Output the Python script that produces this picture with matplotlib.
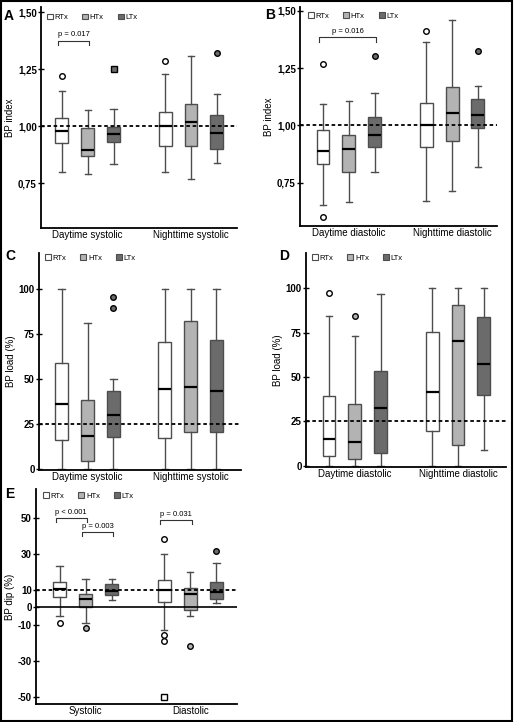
import numpy as np
import matplotlib.pyplot as plt
from matplotlib.patches import Patch, Rectangle

plt.rcParams['font.family'] = ['Liberation Sans', 'DejaVu Sans']

W, H = 514, 722

groups = ['RTx', 'HTx', 'LTx']
group_colors = ['white', '#b3b3b3', '#6b6b6b']
positions = [1, 2, 3, 5, 6, 7]

# order in every series: RTx, HTx, LTx (day / systolic), RTx, HTx, LTx (night / diastolic)

# A - BP index, systolic
a_cats = ['Daytime systolic', 'Nighttime systolic']
a_whislo = [0.800, 0.790, 0.834, 0.798, 0.769, 0.839]
a_q1 = [0.926, 0.869, 0.933, 0.915, 0.914, 0.900]
a_med = [0.981, 0.894, 0.965, 1.000, 1.019, 0.969]
a_q3 = [1.035, 0.991, 0.998, 1.061, 1.097, 1.049]
a_whishi = [1.153, 1.071, 1.077, 1.231, 1.306, 1.141]
a_fliers = [(0, 1.220, 'o'), (2, 1.253, 's'), (3, 1.285, 'o'), (5, 1.323, 'o')]
a_brackets = [(0, 1, 1.376, 'p = 0.017')]

# B - BP index, diastolic
b_cats = ['Daytime diastolic', 'Nighttime diastolic']
b_whislo = [0.653, 0.664, 0.794, 0.670, 0.715, 0.818]
b_q1 = [0.830, 0.795, 0.904, 0.907, 0.933, 0.988]
b_med = [0.887, 0.898, 0.959, 1.003, 1.054, 1.044]
b_q3 = [0.980, 0.958, 1.038, 1.099, 1.169, 1.113]
b_whishi = [1.094, 1.108, 1.141, 1.363, 1.459, 1.173]
b_fliers = [(0, 1.266, 'o'), (0, 0.599, 'o'), (2, 1.304, 'o'), (3, 1.413, 'o'), (5, 1.326, 'o')]
b_brackets = [(0, 2, 1.384, 'p = 0.016')]

# C - BP load, systolic
c_cats = ['Daytime systolic', 'Nighttime systolic']
c_whislo = [0, 0, 0, 0, 0, 0]
c_q1 = [15.7, 4.1, 17.6, 16.9, 20.2, 20.2]
c_med = [35.9, 18.1, 29.6, 44.4, 45.6, 43.0]
c_q3 = [58.9, 38.0, 43.0, 70.6, 81.9, 71.5]
c_whishi = [100, 80.9, 50, 100, 100, 100]
c_fliers = [(2, 95.6, 'o'), (2, 89.0, 'o')]

# D - BP load, diastolic
d_cats = ['Daytime diastolic', 'Nighttime diastolic']
d_whislo = [0, 0, 0, 0, 0, 9.0]
d_q1 = [5.5, 3.9, 7.1, 19.4, 11.5, 40.0]
d_med = [15.0, 13.7, 32.3, 41.7, 70.5, 57.3]
d_q3 = [39.5, 34.6, 53.2, 75.4, 90.4, 83.5]
d_whishi = [84.2, 73.3, 96.8, 100, 100, 100]
d_fliers = [(0, 97.4, 'o'), (1, 84.2, 'o')]

# E - BP dip
e_cats = ['Systolic', 'Diastolic']
e_whislo = [-4.9, -8.8, 3.9, -12.7, -4.9, 2.6]
e_q1 = [5.6, 0.4, 6.9, 3.2, -1.5, 4.5]
e_med = [10.3, 4.9, 9.3, 9.7, 7.5, 8.8]
e_q3 = [14.0, 7.3, 12.9, 15.3, 10.8, 14.4]
e_whishi = [23.2, 16.1, 15.7, 29.9, 20.0, 25.0]
e_fliers = [(0, -8.8, 'o'), (1, -11.6, 'o'), (3, 38.3, 'o'), (3, -15.5, 'o'),
            (3, -18.9, 'o'), (3, -50.1, 's'), (4, -21.7, 'o'), (5, 31.7, 'o')]
e_brackets = [(0, 1, 50.0, 'p < 0.001'), (1, 2, 42.3, 'p = 0.003'), (3, 4, 48.7, 'p = 0.031')]


def px_rect(x0, y0, x1, y1):
    return [x0 / W, 1 - y1 / H, (x1 - x0) / W, (y1 - y0) / H]


def draw_panel(ax, whislo, q1, med, q3, whishi, fliers, cats, ref, ylim, xlim,
               yticks, yticklabels, ylabel, leg_xy, brackets=(), bracket_tick=0.0):
    stats = []
    for i in range(len(positions)):
        stats.append(dict(med=med[i], q1=q1[i], q3=q3[i],
                          whislo=whislo[i], whishi=whishi[i], fliers=[]))
    edge = '#4d4d4d'
    res = ax.bxp(stats, positions=positions, widths=0.5, patch_artist=True,
                 showfliers=False, capwidths=0.25,
                 boxprops=dict(edgecolor=edge, lw=1),
                 whiskerprops=dict(color=edge, lw=1),
                 capprops=dict(color=edge, lw=1),
                 medianprops=dict(color='black', lw=1.6))
    for i, box in enumerate(res['boxes']):
        box.set_facecolor(group_colors[i % 3])

    for i, val, mk in fliers:
        ax.plot(positions[i], val, marker=mk, ms=4, mfc=group_colors[i % 3],
                mec='black', mew=1, ls='none', zorder=4)

    ax.axhline(ref, color='black', ls=(0, (2, 1.5)), lw=1.3, zorder=5)

    for i1, i2, y, txt in brackets:
        x1, x2 = positions[i1] - 0.15, positions[i2] + 0.05
        ax.plot([x1, x1, x2, x2], [y - bracket_tick, y, y, y - bracket_tick],
                color='#333333', lw=0.8)
        ax.text((x1 + x2) / 2, y + bracket_tick * 0.6, txt, ha='center',
                va='bottom', fontsize=5.5)

    ax.set_xlim(xlim)
    ax.set_ylim(ylim)
    ax.set_xticks([2, 6])
    ax.set_xticklabels(cats)
    ax.set_yticks(yticks)
    ax.set_yticklabels(yticklabels, fontweight='bold')
    ax.set_ylabel(ylabel, fontsize=7, labelpad=2)
    ax.tick_params(axis='x', length=0, labelsize=7, pad=1.5)
    ax.tick_params(axis='y', direction='inout', length=4, width=1, labelsize=7, pad=1)
    for s in ['top', 'right']:
        ax.spines[s].set_visible(False)
    for s in ['left', 'bottom']:
        ax.spines[s].set_linewidth(1.3)

    handles = [Patch(facecolor=c, edgecolor=edge, lw=0.8) for c in group_colors]
    ax.legend(handles, groups, ncol=3, loc='upper left', bbox_to_anchor=leg_xy,
              frameon=False, fontsize=5.5, handlelength=0.8, handleheight=0.8,
              handletextpad=0.2, columnspacing=1.8, borderaxespad=0, borderpad=0)


fig = plt.figure(figsize=(W / 100, H / 100), dpi=100)

idx_ticks = [0.75, 1.0, 1.25, 1.5]
idx_labels = ['0,75', '1,00', '1,25', '1,50']
load_ticks = [0, 25, 50, 75, 100]
dip_ticks = [-50, -30, -10, 0, 10, 30, 50]

ax_a = fig.add_axes(px_rect(41, 7, 237, 228))
draw_panel(ax_a, a_whislo, a_q1, a_med, a_q3, a_whishi, a_fliers, a_cats, 1.0,
           (0.554, 1.523), (0.19, 7.78), idx_ticks, idx_labels, 'BP index',
           (0.03, 0.97), a_brackets, 0.018)

ax_b = fig.add_axes(px_rect(300, 7, 497, 226))
draw_panel(ax_b, b_whislo, b_q1, b_med, b_q3, b_whishi, b_fliers, b_cats, 1.0,
           (0.56, 1.517), (0.11, 7.74), idx_ticks, idx_labels, 'BP index',
           (0.04, 0.975), b_brackets, 0.018)

ax_c = fig.add_axes(px_rect(39, 253, 241, 470))
draw_panel(ax_c, c_whislo, c_q1, c_med, c_q3, c_whishi, c_fliers, c_cats, 25,
           (-0.7, 119.8), (0.12, 7.95), load_ticks, [str(t) for t in load_ticks],
           'BP load (%)', (0.03, 0.995))

ax_d = fig.add_axes(px_rect(306, 253, 506, 467))
draw_panel(ax_d, d_whislo, d_q1, d_med, d_q3, d_whishi, d_fliers, d_cats, 25,
           (-0.6, 119.7), (0.11, 7.86), load_ticks, [str(t) for t in load_ticks],
           'BP load (%)', (0.03, 0.995))

ax_e = fig.add_axes(px_rect(36, 489, 237, 704))
draw_panel(ax_e, e_whislo, e_q1, e_med, e_q3, e_whishi, e_fliers, e_cats, 10,
           (-54.1, 66.3), (0.1, 7.79), dip_ticks, [str(t) for t in dip_ticks],
           'BP dip (%)', (0.035, 0.985), e_brackets, 2.2)
ax_e.axhline(0, color='black', lw=1.2, zorder=5)

for letter, x, y in [('A', 9, 16), ('B', 270, 15), ('C', 10, 256), ('D', 284, 256), ('E', 10, 494)]:
    fig.text(x / W, 1 - y / H, letter, fontsize=10, fontweight='bold', ha='center', va='center')

fig.patches.append(Rectangle((0.002, 0.002), 0.995, 0.996, transform=fig.transFigure,
                             fill=False, ec='black', lw=1.5))

fig.savefig('out.png', dpi=100)
